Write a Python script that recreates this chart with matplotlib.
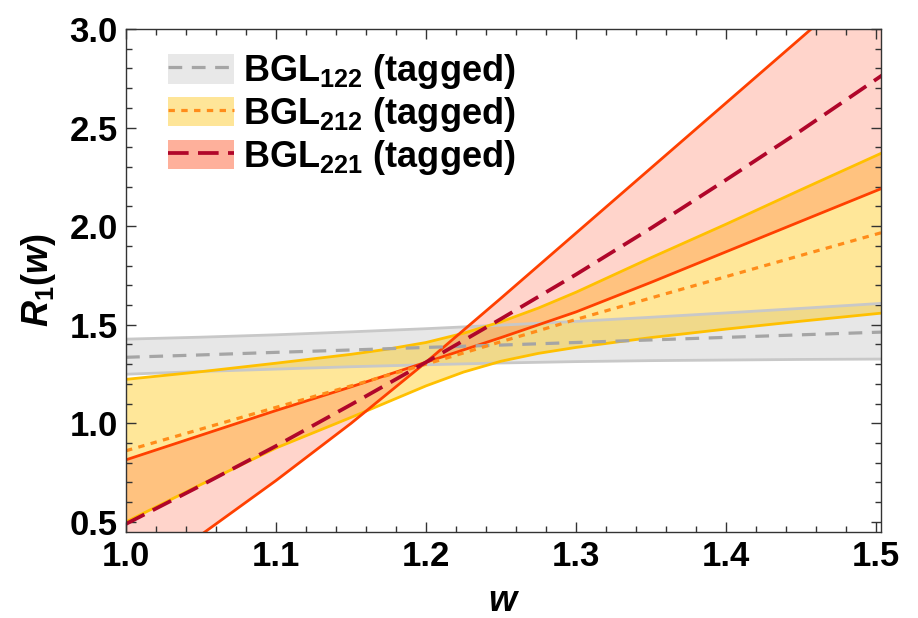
import numpy as np
import matplotlib.pyplot as plt
from matplotlib.patches import Patch
from matplotlib.lines import Line2D
from matplotlib.ticker import MultipleLocator, FormatStrFormatter

plt.rcParams['font.family'] = 'Liberation Sans'
plt.rcParams['font.weight'] = 'bold'
plt.rcParams['mathtext.fontset'] = 'custom'
plt.rcParams['mathtext.rm'] = 'Liberation Sans:bold'
plt.rcParams['mathtext.it'] = 'Liberation Sans:italic:bold'
plt.rcParams['mathtext.bf'] = 'Liberation Sans:bold'
plt.rcParams['mathtext.sf'] = 'Liberation Sans'

# w grid for the gray and red bands
w = [1.00, 1.05, 1.10, 1.15, 1.20, 1.25, 1.30, 1.35, 1.40, 1.45, 1.505]

# BGL122 (tagged)
gray_hi = [1.427, 1.437, 1.449, 1.464, 1.480, 1.498, 1.517, 1.538, 1.560, 1.583, 1.609]
gray_mid = [1.335, 1.347, 1.360, 1.372, 1.385, 1.397, 1.410, 1.423, 1.436, 1.449, 1.463]
gray_lo = [1.249, 1.263, 1.275, 1.287, 1.297, 1.306, 1.313, 1.318, 1.321, 1.324, 1.326]

# BGL221 (tagged)
red_a = [0.17, 0.435, 0.71, 1.00, 1.31, 1.635, 1.965, 2.295, 2.625, 2.955, 3.32]
red_b = [0.815, 0.940, 1.065, 1.185, 1.310, 1.435, 1.565, 1.715, 1.870, 2.025, 2.195]
red_mid = [0.490, 0.685, 0.885, 1.095, 1.310, 1.530, 1.755, 1.990, 2.235, 2.485, 2.770]

# BGL212 (tagged), finer grid near the bend
w_y = [1.00, 1.05, 1.10, 1.15, 1.175, 1.20, 1.225, 1.25, 1.275, 1.30, 1.35, 1.40, 1.45, 1.505]
yel_hi = [1.223, 1.262, 1.305, 1.350, 1.377, 1.410, 1.457, 1.515, 1.585, 1.665, 1.840, 2.010, 2.185, 2.375]
yel_lo = [0.500, 0.690, 0.875, 1.030, 1.110, 1.190, 1.260, 1.315, 1.355, 1.385, 1.435, 1.478, 1.518, 1.560]
yel_mid = [0.861, 0.971, 1.081, 1.190, 1.245, 1.300, 1.357, 1.414, 1.470, 1.527, 1.636, 1.744, 1.852, 1.970]

labels = [r'BGL$_{\mathsf{122}}$ (tagged)', r'BGL$_{\mathsf{212}}$ (tagged)', r'BGL$_{\mathsf{221}}$ (tagged)']

fig = plt.figure(figsize=(9.18, 6.18), dpi=100)
ax = fig.add_axes([0.1373, 0.1392, 0.8224, 0.8139])

# bands
ax.fill_between(w, gray_lo, gray_hi, color='#a0a0a0', alpha=0.25, lw=0)
ax.fill_between(w_y, yel_lo, yel_hi, color='#ffc400', alpha=0.4, lw=0)
ax.fill_between(w, red_a, red_b, color='#ff5533', alpha=0.25, lw=0)

# band edges
ax.plot(w, gray_hi, color='#c8c8c8', lw=2.0)
ax.plot(w, gray_lo, color='#c8c8c8', lw=2.0)
ax.plot(w_y, yel_hi, color='#ffc000', lw=2.0)
ax.plot(w_y, yel_lo, color='#ffc000', lw=2.0)
ax.plot(w, red_a, color='#ff4000', lw=2.0)
ax.plot(w, red_b, color='#ff4000', lw=2.0)

# central values
gray_style = dict(color='#a5a5a5', lw=2.3, dashes=(4.3, 3))
yel_style = dict(color='#ff8c1a', lw=2.3, dashes=(2, 2))
red_style = dict(color='#b0062a', lw=2.7, dashes=(5.5, 2.5))
ax.plot(w, gray_mid, **gray_style)
ax.plot(w_y, yel_mid, **yel_style)
ax.plot(w, red_mid, **red_style)

ax.set_xlim(1.0, 1.5033)
ax.set_ylim(0.449, 3.0)
ax.xaxis.set_major_locator(MultipleLocator(0.1))
ax.xaxis.set_minor_locator(MultipleLocator(0.02))
ax.yaxis.set_major_locator(MultipleLocator(0.5))
ax.yaxis.set_minor_locator(MultipleLocator(0.1))
ax.xaxis.set_major_formatter(FormatStrFormatter('%.1f'))
ax.yaxis.set_major_formatter(FormatStrFormatter('%.1f'))
ax.tick_params(which='both', direction='in', top=True, right=True, width=1,
               labelsize=25, pad=6, color='#333333')
ax.tick_params(which='major', length=7)
ax.tick_params(which='minor', length=4)
for s in ax.spines.values():
    s.set_linewidth(1)
    s.set_color('#333333')

ax.set_xlabel(r'$w$', fontsize=26, labelpad=8)
ax.set_ylabel(r'$R_{\mathit{1}}(w)$', fontsize=26, labelpad=8)

handles = [
    (Patch(facecolor='#e8e8e8'), Line2D([], [], **gray_style)),
    (Patch(facecolor='#fee598'), Line2D([], [], **yel_style)),
    (Patch(facecolor='#feb09b'), Line2D([], [], **red_style)),
]
ax.legend(handles, labels, loc='upper left', bbox_to_anchor=(0.0556, 0.954),
          frameon=False, fontsize=26, handlelength=1.83, handleheight=0.89,
          handletextpad=0.25, labelspacing=0.11, borderpad=0, borderaxespad=0)

plt.savefig('out.png', dpi=100)
plt.close()
